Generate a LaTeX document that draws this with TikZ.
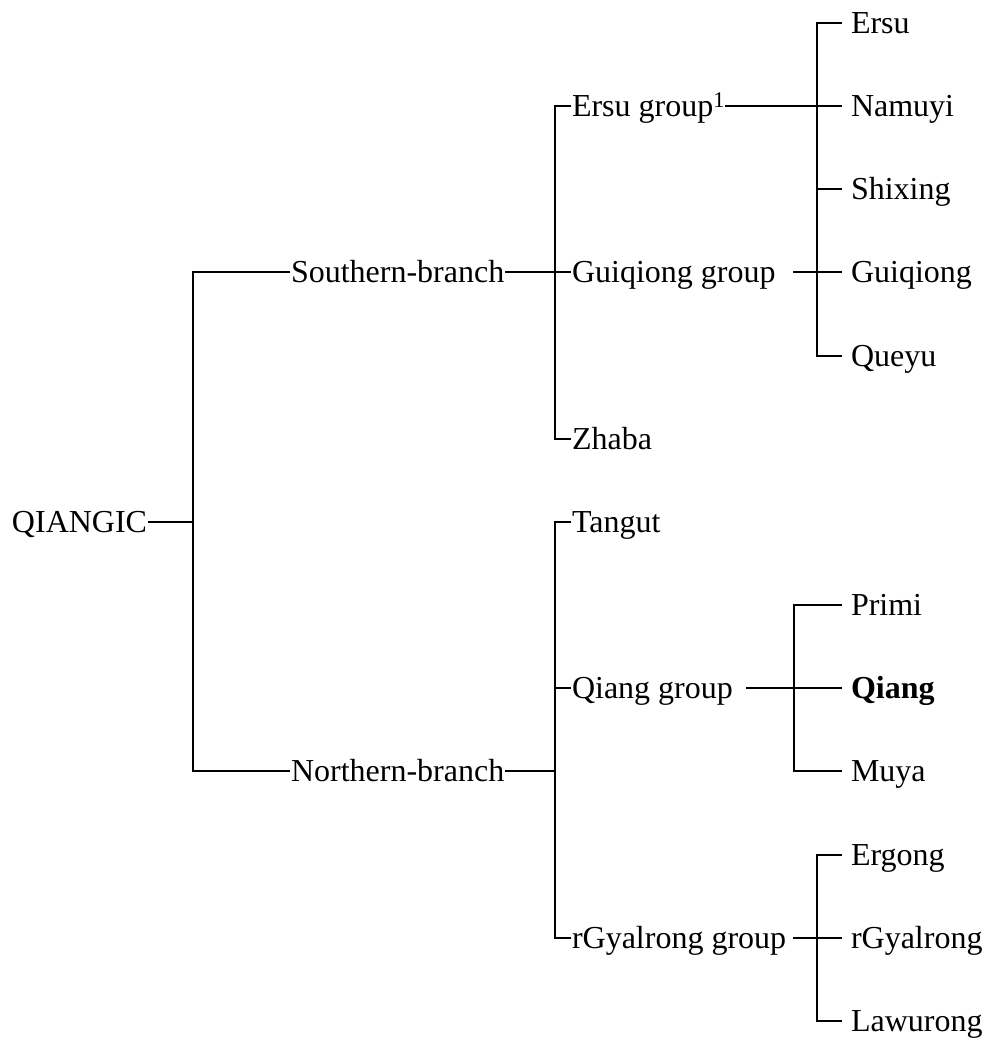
\documentclass[tikz,border=0pt]{standalone}
\usepackage{fontspec}
\setmainfont{Liberation Serif}
\begin{document}
\begin{tikzpicture}[x=1pt,y=-1pt,
  lbl/.style={anchor=west,inner ysep=0pt,inner xsep=0pt,text height=21pt,text depth=0pt,
    font=\fontsize{32}{38}\selectfont},
  leaf/.style={lbl,inner xsep=8pt},
  every path/.style={line width=2pt}]
\useasboundingbox (0,0) rectangle (983,1039);
% rows
\def\ra{23}\def\rb{106}\def\rc{189}\def\rd{272}\def\re{356}\def\rf{439}
\def\rg{522}\def\rh{605}\def\ri{688}\def\rj{771}\def\rk{855}\def\rl{938}\def\rm{1021}
% root and branches
\node[lbl] (Q) at (11,\rg) {QIANGIC};
\node[lbl] (S) at (290,\rd) {Southern-branch};
\node[lbl] (N) at (290,\rj) {Northern-branch};
% groups
\node[lbl] (EG) at (571,\rb) {Ersu group\textsuperscript{1}};
\node[lbl] (GG) at (571,\rd) {Guiqiong group};
\node[lbl] (Zh) at (571,\rf) {Zhaba};
\node[lbl] (Ta) at (571,\rg) {Tangut};
\node[lbl] (QG) at (571,\ri) {Qiang group};
\node[lbl] (RG) at (571,\rl) {rGyalrong group};
% leaves
\node[leaf] (L0) at (842,\ra) {Ersu};
\node[leaf] (L1) at (842,\rb) {Namuyi};
\node[leaf] (L2) at (842,\rc) {Shixing};
\node[leaf] (L3) at (842,\rd) {Guiqiong};
\node[leaf] (L4) at (842,\re) {Queyu};
\node[leaf] (L7) at (842,\rh) {Primi};
\node[leaf] (L8) at (842,\ri) {\bfseries Qiang};
\node[leaf] (L9) at (842,\rj) {Muya};
\node[leaf] (L10) at (842,\rk) {Ergong};
\node[leaf] (L11) at (842,\rl) {rGyalrong};
\node[leaf] (L12) at (842,\rm) {Lawurong};
% junctions
\coordinate (jq) at (193,\rg);
\coordinate (js) at (555,\rd);
\coordinate (jn) at (555,\rj);
\coordinate (k1) at (817,\rb);
\coordinate (k8) at (794,\ri);
\coordinate (k11) at (817,\rl);
\coordinate (c1) at (725,\rb);
\coordinate (c3) at (793,\rd);
\coordinate (c8) at (746,\ri);
\coordinate (c11) at (793,\rl);
% connectors
\draw (Q.east) -- (jq);
\draw (S.west) -| (jq) |- (N.west);
\draw (S.east) -- (GG.west);
\draw (EG.west) -| (js) |- (Zh.west);
\draw (N.east) -- (jn);
\draw (Ta.west) -| (jn) |- (RG.west);
\draw (jn |- QG.west) -- (QG.west);
\draw (L0.west) -| (k1) |- (L4.west);
\draw (c1) -- (L1.west);
\draw (k1 |- L2.west) -- (L2.west);
\draw (c3) -- (L3.west);
\draw (L7.west) -| (k8) |- (L9.west);
\draw (c8) -- (L8.west);
\draw (L10.west) -| (k11) |- (L12.west);
\draw (c11) -- (L11.west);
\end{tikzpicture}
\end{document}
